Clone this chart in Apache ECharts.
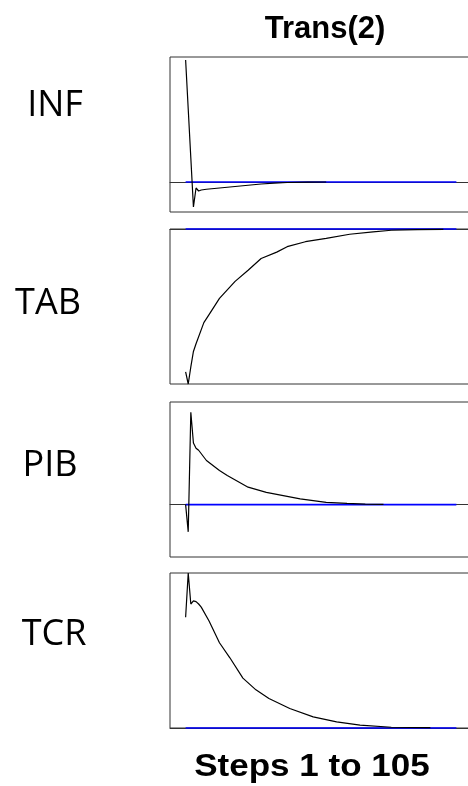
<!DOCTYPE html>
<html>
<head>
<meta charset="utf-8">
<script src="https://cdn.jsdelivr.net/npm/echarts@6/dist/echarts.min.js"></script>
<style>
  html, body { margin: 0; padding: 0; background: #fff; }
  #chart { width: 468px; height: 786px; }
</style>
</head>
<body>
<div id="chart"></div>
<script>
  // panel names, top to bottom
  const panelNames = ['INF', 'TAB', 'PIB', 'TCR']

  // transition paths (deviation from steady state)
  const infSteps = [1, 2, 3, 4, 5, 6, 7, 9, 12, 15, 20, 25, 30, 35, 40, 48, 55]
  const infValues = [0.976, 0.584, 0.192, -0.2, -0.048, -0.072, -0.064, -0.058, -0.052, -0.046, -0.036, -0.026, -0.016, -0.009, -0.004, -0.001, 0]

  const tabSteps = [1, 2, 3, 4, 5, 8, 10, 14, 20, 25, 30, 36, 40, 47, 55, 64, 73, 80, 90, 100]
  const tabValues = [-0.922, -1.0, -0.89, -0.79, -0.74, -0.604, -0.552, -0.448, -0.338, -0.266, -0.19, -0.149, -0.114, -0.082, -0.06, -0.034, -0.018, -0.008, -0.004, -0.003]

  const pibSteps = [1, 2, 3, 4, 5, 6, 9, 14, 17, 25, 32, 45, 55, 63, 70, 77]
  const pibValues = [0, -0.265, 0.9, 0.6, 0.55, 0.53, 0.43, 0.333, 0.284, 0.17, 0.12, 0.056, 0.023, 0.013, 0.005, 0.003]

  const tcrSteps = [1, 2, 3, 4, 5, 6, 7, 10, 14, 18, 23, 28, 33, 41, 50, 59, 68, 80, 95]
  const tcrValues = [0.714, 1.0, 0.8, 0.82, 0.815, 0.8, 0.78, 0.69, 0.55, 0.453, 0.322, 0.246, 0.19, 0.126, 0.072, 0.039, 0.018, 0.005, 0.003]

  // steady state line (blue)
  const steadySteps = [1, 105]
  const steadyValue = 0

  const titleText = 'Trans(2)'
  const footerText = 'Steps 1 to 105'

  const pathSteps = [infSteps, tabSteps, pibSteps, tcrSteps]
  const pathValues = [infValues, tabValues, pibValues, tcrValues]

  // layout
  const gridTops = [57, 229, 402, 573]
  const gridHeight = 155
  const yRanges = [[-0.24, 1.0], [-1.0, 0], [-0.51, 1.0], [0, 1.0]]
  const labelPos = [[55, 106], [48, 304], [50, 466], [54, 635]]

  const grids = []
  const xAxes = []
  const yAxes = []
  const series = []
  const graphics = []

  panelNames.forEach((name, i) => {
    grids.push({
      left: 170,
      width: 302, // runs past the right edge, so no right border shows
      top: gridTops[i],
      height: gridHeight,
      outerBoundsMode: 'none',
      containLabel: false,
      show: true,
      borderColor: '#333',
      borderWidth: 1,
      backgroundColor: 'transparent'
    })
    xAxes.push({
      type: 'value',
      gridIndex: i,
      min: -5,
      max: 111,
      axisLine: { show: true, onZero: true, lineStyle: { color: '#333', width: 1 } },
      axisTick: { show: false },
      axisLabel: { show: false },
      splitLine: { show: false }
    })
    yAxes.push({
      type: 'value',
      gridIndex: i,
      min: yRanges[i][0],
      max: yRanges[i][1],
      axisLine: { show: false },
      axisTick: { show: false },
      axisLabel: { show: false },
      splitLine: { show: false }
    })
    // blue steady state, under the black path
    series.push({
      type: 'line',
      xAxisIndex: i,
      yAxisIndex: i,
      symbol: 'none',
      clip: false,
      silent: true,
      z: 2,
      lineStyle: { color: '#0000ff', width: 1.6 },
      data: steadySteps.map(s => [s, steadyValue])
    })
    series.push({
      name: name,
      type: 'line',
      xAxisIndex: i,
      yAxisIndex: i,
      symbol: 'none',
      clip: false,
      silent: true,
      z: 3,
      lineStyle: { color: '#000', width: 1.2 },
      data: pathSteps[i].map((s, k) => [s, pathValues[i][k]])
    })
    graphics.push({
      type: 'text',
      x: labelPos[i][0],
      y: labelPos[i][1],
      style: {
        text: name,
        fill: '#000',
        font: '36px "Open Sans"',
        textAlign: 'center',
        textVerticalAlign: 'middle'
      }
    })
  })

  graphics.push({
    type: 'text',
    x: 325,
    y: 29,
    style: {
      text: titleText,
      fill: '#000',
      font: 'bold 31px "Liberation Sans", Arial',
      textAlign: 'center',
      textVerticalAlign: 'middle'
    }
  })
  graphics.push({
    type: 'text',
    x: 312,
    y: 767,
    scaleX: 1.13,
    style: {
      text: footerText,
      fill: '#000',
      font: 'bold 31px "Liberation Sans", Arial',
      textAlign: 'center',
      textVerticalAlign: 'middle'
    }
  })

  const option = {
    animation: false,
    backgroundColor: '#fff',
    grid: grids,
    xAxis: xAxes,
    yAxis: yAxes,
    series: series,
    graphic: graphics
  }

  const chart = echarts.init(document.getElementById('chart'))
  chart.setOption(option, true)
</script>
</body>
</html>
